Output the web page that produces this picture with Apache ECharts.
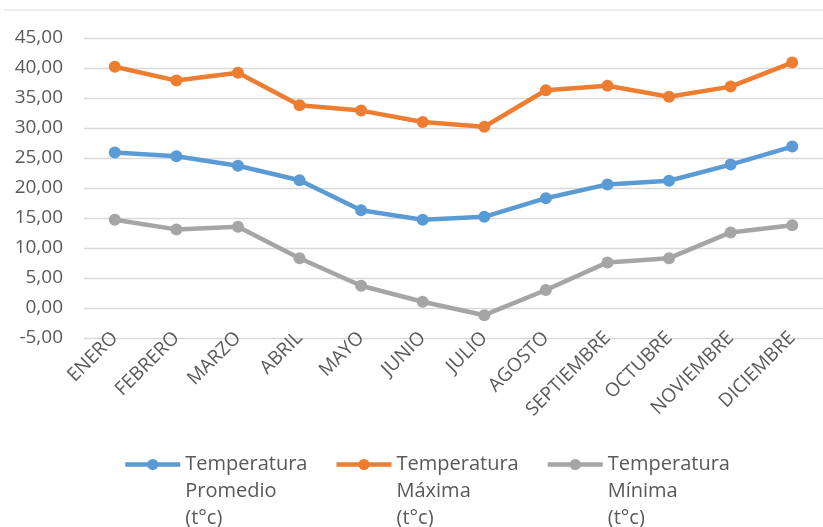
<!DOCTYPE html>
<html>
<head>
<meta charset="utf-8">
<script src="https://cdn.jsdelivr.net/npm/echarts@6/dist/echarts.min.js"></script>
<style>html,body{margin:0;padding:0;background:#fff}#c{width:823px;height:527px}</style>
</head>
<body>
<div id="c"></div>
<script>
const months = ['ENERO','FEBRERO','MARZO','ABRIL','MAYO','JUNIO','JULIO','AGOSTO','SEPTIEMBRE','OCTUBRE','NOVIEMBRE','DICIEMBRE'];
const promedio = [25.9, 25.3, 23.7, 21.3, 16.3, 14.7, 15.2, 18.3, 20.6, 21.2, 23.9, 26.9];
const maxima = [40.2, 37.9, 39.2, 33.8, 32.9, 31.0, 30.2, 36.3, 37.05, 35.2, 36.9, 40.9];
const minima = [14.7, 13.1, 13.55, 8.3, 3.7, 1.05, -1.2, 3.0, 7.6, 8.3, 12.6, 13.8];
const seriesNames = ['Temperatura\nPromedio\n(t°c)', 'Temperatura\nMáxima\n(t°c)', 'Temperatura\nMínima\n(t°c)'];
const colors = ['#5b9bd5', '#ed7d31', '#a5a5a5'];
const yMin = -5, yMax = 45, yStep = 5;

const FONT = 'Open Sans';
const chart = echarts.init(document.getElementById('c'));
const mk = (name, data, color) => ({
  name, type: 'line', data,
  symbol: 'circle', symbolSize: 12,
  lineStyle: {width: 4.5, color},
  itemStyle: {color},
  emphasis: {disabled: true},
  animation: false
});
chart.setOption({
  animation: false,
  color: colors,
  grid: {left: 84, right: 0, top: 38, bottom: 189},
  graphic: [{
    type: 'line', shape: {x1: 4, y1: 10, x2: 823, y2: 10},
    style: {stroke: '#d9d9d9', lineWidth: 1}
  }],
  xAxis: {
    type: 'category', data: months, boundaryGap: true,
    axisLine: {show: false}, axisTick: {show: false},
    axisLabel: {rotate: 45, margin: -3, color: '#595959', fontFamily: FONT, fontSize: 19, interval: 0}
  },
  yAxis: {
    type: 'value', min: yMin, max: yMax, interval: yStep,
    axisLine: {show: false}, axisTick: {show: false},
    splitLine: {lineStyle: {color: '#d9d9d9', width: 1.3}},
    axisLabel: {margin: 21, color: '#595959', fontFamily: FONT, fontSize: 19,
      formatter: v => v.toFixed(2).replace('.', ',')}
  },
  legend: {
    left: 123, top: 397, padding: 0, itemGap: 1,
    itemWidth: 55, itemHeight: 14,
    data: seriesNames,
    formatter: name => '\n\n' + name,
    lineStyle: {width: 4.5},
    textStyle: {color: '#595959', fontFamily: FONT, fontSize: 20, lineHeight: 27, width: 148}
  },
  series: [
    mk(seriesNames[0], promedio, colors[0]),
    mk(seriesNames[1], maxima, colors[1]),
    mk(seriesNames[2], minima, colors[2])
  ]
});
</script>
</body>
</html>
